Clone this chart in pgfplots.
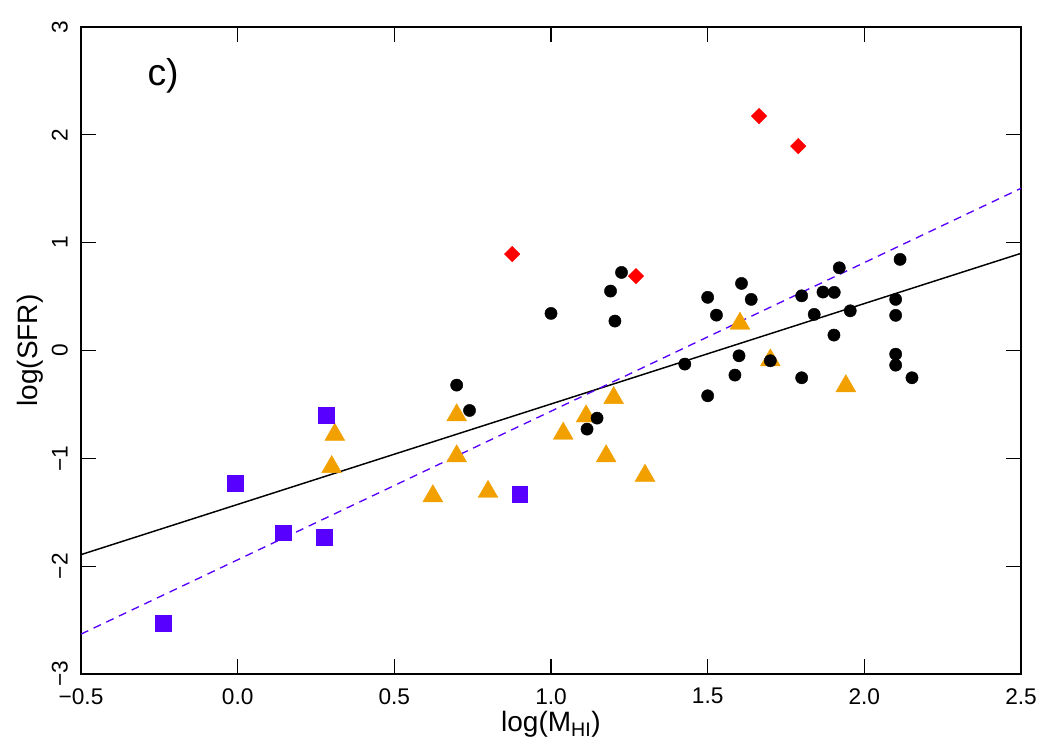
\documentclass[border=0pt]{standalone}
\usepackage{pgfplots}
\pgfplotsset{compat=1.18}
\usepackage{fontspec}
\setmainfont{Liberation Sans}
\definecolor{vio}{RGB}{88,0,255}
\definecolor{org}{RGB}{242,160,0}
\begin{document}
\begin{tikzpicture}
\begin{axis}[
  scale only axis, width=705pt, height=485.25pt,
  xmin=-0.5, xmax=2.5, ymin=-3, ymax=3,
  xtick={-0.5,0,0.5,1,1.5,2,2.5},
  xticklabels={−0.5,0.0,0.5,1.0,1.5,2.0,2.5},
  ytick={-3,-2,-1,0,1,2,3},
  yticklabels={−3,−2,−1,0,1,2,3},
  tick align=inside, major tick length=11pt,
  axis line style={line width=1.2pt},
  tick style={line width=1pt, black},
  xticklabel style={font=\fontsize{17}{20}\selectfont, anchor=north, inner sep=10.5pt},
  yticklabel style={font=\fontsize{17}{20}\selectfont, rotate=90, anchor=south, inner sep=9.75pt},
  xlabel={log(M\textsubscript{HI})},
  ylabel={log(SFR)},
  xlabel style={font=\fontsize{21}{24}\selectfont, inner sep=0pt, at={(axis description cs:0.5,-0.0896)}, anchor=base},
  ylabel style={font=\fontsize{21}{24}\selectfont, inner sep=0pt, at={(axis description cs:-0.0468,0.5)}, rotate=0, anchor=base},
  clip=false,
]
\addplot[only marks, mark=triangle*, mark size=8.6pt, mark options={fill=org, draw=org, line width=0.3pt}] coordinates {
(0.310,-0.78) (0.300,-1.08) (0.699,-0.60) (0.699,-0.98) (0.623,-1.35)
(0.799,-1.31) (1.039,-0.77) (1.112,-0.61) (1.200,-0.44) (1.176,-0.98)
(1.300,-1.16) (1.603,0.25) (1.700,-0.09) (1.941,-0.33)
};
\addplot[only marks, mark=square*, mark size=5.9pt, mark options={fill=vio, draw=vio, line width=0.3pt}] coordinates {
(-0.237,-2.53) (-0.009,-1.23) (0.146,-1.69) (0.276,-1.73) (0.283,-0.60) (0.900,-1.33)
};
\addplot[only marks, mark=*, mark size=4.6pt, mark options={fill=black, draw=black, line width=0.3pt}] coordinates {
(1.225,0.724) (1.190,0.551) (1.000,0.344) (1.204,0.273) (1.427,-0.126)
(0.699,-0.321) (0.740,-0.556) (1.147,-0.627) (1.115,-0.729)
(2.114,0.845) (1.920,0.767) (1.608,0.622) (1.500,0.493) (1.639,0.474)
(1.800,0.507) (1.868,0.542) (1.904,0.539) (2.100,0.474) (1.528,0.328)
(1.840,0.335) (1.955,0.368) (2.100,0.326) (1.903,0.143) (1.600,-0.049)
(1.700,-0.095) (2.100,-0.034) (2.100,-0.136) (1.587,-0.228) (1.800,-0.253)
(2.152,-0.253) (1.500,-0.420)
};
\addplot[only marks, mark=square*, mark size=4.1pt, mark options={rotate=45, fill=red, draw=red, line width=0.3pt}] coordinates {
(0.876,0.894) (1.271,0.690) (1.664,2.174) (1.789,1.896)
};
\addplot[black, line width=1.1pt] coordinates {(-0.5,-1.893) (2.5,0.901)};
\addplot[vio, line width=1pt, dash pattern=on 6pt off 4.5pt] coordinates {(-0.5,-2.63) (2.5,1.504)};
\node[font=\fontsize{28}{32}\selectfont] at (axis cs:-0.238,2.545) {c)};
\end{axis}
\pgfresetboundingbox
\path ([xshift=-60.75pt,yshift=-57pt]current axis.south west) rectangle ([xshift=20.25pt,yshift=20.25pt]current axis.north east);
\end{tikzpicture}
\end{document}
